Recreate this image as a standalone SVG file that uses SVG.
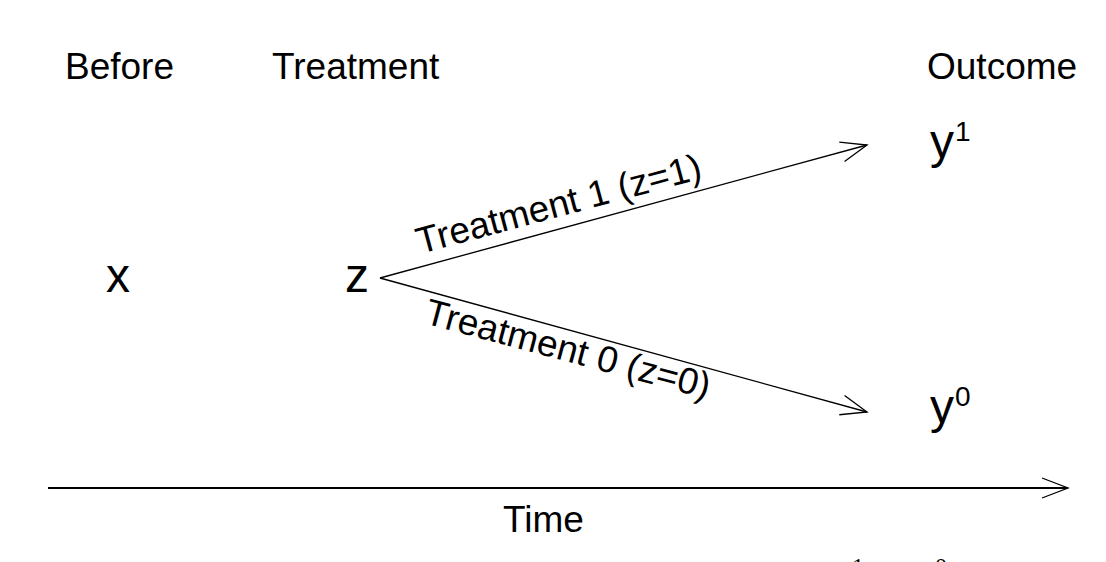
<svg xmlns="http://www.w3.org/2000/svg" width="1106" height="562" viewBox="0 0 1106 562">
<style>
text{font-family:"Liberation Sans",Arial,sans-serif;fill:#000}
.h{font-size:37px}
.v{font-size:48px}
.sup{font-size:28px}
.lbl{font-size:37px}
.ln{stroke:#000;stroke-width:1.3;fill:none}
.ax{stroke:#000;stroke-width:2;fill:none}
.cut{font-family:"Liberation Serif","Times New Roman",serif;font-size:24px}
</style>
<defs>
<marker id="ah" viewBox="0 0 30 30" refX="28" refY="15" markerWidth="30" markerHeight="30" markerUnits="userSpaceOnUse" orient="auto">
<path d="M2,5 L28,15 L2,25" fill="none" stroke="#000" stroke-width="1.3"/>
</marker>
</defs>
<rect width="1106" height="562" fill="#fff"/>
<g id="headings">
<text class="h" x="65" y="79">Before</text>
<text class="h" x="272" y="79">Treatment</text>
<text class="h" x="927" y="79">Outcome</text>
</g>
<g id="node-x"><text class="v" x="106" y="292">x</text></g>
<g id="node-z"><text class="v" x="345" y="292">z</text></g>
<g id="node-y1"><text class="v" x="930" y="158">y</text><text class="sup" x="955" y="141">1</text></g>
<g id="node-y0"><text class="v" x="930" y="423">y</text><text class="sup" x="955" y="406">0</text></g>
<g id="connectors">
<line class="ln" x1="380" y1="278" x2="867" y2="145" marker-end="url(#ah)"/>
<line class="ln" x1="380" y1="278" x2="867" y2="412" marker-end="url(#ah)"/>
<line class="ax" x1="48" y1="488" x2="1068" y2="488" marker-end="url(#ah)"/>
</g>
<g id="labels">
<text class="lbl" transform="translate(420,254) rotate(-15)">Treatment 1 (z=1)</text>
<text class="lbl" transform="translate(423,323) rotate(15)">Treatment 0 (z=0)</text>
<text class="h" x="503" y="532">Time</text>
</g>
<g id="cut-off">
<text class="cut" x="852" y="574">1</text>
<text class="cut" x="935" y="574">0</text>
</g>
</svg>
